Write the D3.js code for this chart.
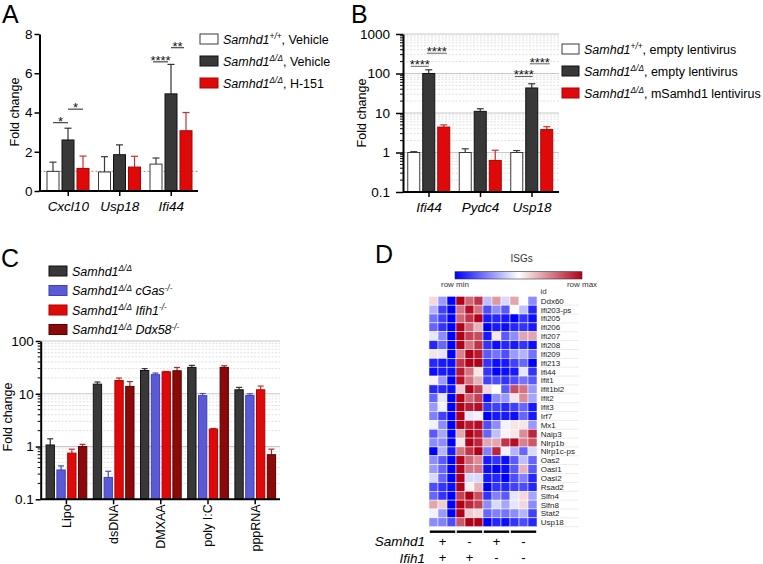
<!DOCTYPE html>
<html>
<head>
<meta charset="utf-8">
<script src="https://cdn.jsdelivr.net/npm/d3@7"></script>
<style>
  body { margin: 0; background: #fff; }
  svg { display: block; }
</style>
</head>
<body>
<svg id="fig" width="763" height="564"></svg>
<script>
var FONT = "Arial, 'Liberation Sans', Helvetica, sans-serif";

// ---- panel A : fold change, linear axis
var aGenes = ["Cxcl10", "Usp18", "Ifi44"];
var aWt = [1.0, 0.97, 1.37],  aWtErr = [0.47, 0.78, 0.31];
var aKo = [2.6, 1.85, 4.95],  aKoErr = [0.6, 0.5, 1.5];
var aH151 = [1.15, 1.22, 3.07], aH151Err = [0.63, 0.55, 0.93];
var aTicks = [0, 2, 4, 6, 8];

// ---- panel B : fold change, log axis
var bGenes = ["Ifi44", "Pydc4", "Usp18"];
var bWt = [1.0, 1.0, 1.0],   bWtErr = [0.05, 0.24, 0.12];
var bKo = [100, 11, 43],     bKoErr = [24, 1.8, 12];
var bRes = [4.4, 0.63, 3.8], bResErr = [0.6, 0.51, 0.7];
var bTicks = [0.1, 1, 10, 100, 1000];

// ---- panel C : stimuli, log axis
var cStim = ["Lipo", "dsDNA", "DMXAA", "poly I:C", "pppRNA"];
var cKo = [1.07, 15.2, 27.6, 31.6, 11.9],   cKoErr = [0.33, 1.5, 2.4, 2.9, 1.3];
var cCgas = [0.36, 0.26, 23, 9.2, 9.3],     cCgasErr = [0.07, 0.08, 1.7, 0.9, 0.7];
var cIfih1 = [0.75, 17.8, 26, 2.14, 11.9],  cIfih1Err = [0.14, 2.1, 0.5, 0.06, 2.1];
var cDdx58 = [1.0, 13.8, 27.3, 31.6, 0.7],  cDdx58Err = [0.1, 3.2, 4.2, 2.4, 0.19];
var cTicks = [0.1, 1, 10, 100];

// ---- panel D : ISG heatmap (row scaled, -1 = row min, 1 = row max)
var hmGenes = ["Ddx60","Ifi203-ps","Ifi205","Ifi206","Ifi207","Ifi208","Ifi209","Ifi213","Ifi44","Ifit1",
  "Ifit1bl2","Ifit2","Ifit3","Irf7","Mx1","Naip3","Nlrp1b","Nlrp1c-ps","Oas2","Oasl1","Oasl2","Rsad2",
  "Slfn4","Slfn8","Stat2","Usp18"];
var hmVals = [
  [0.15,-0.4,-1,1,0.6,0.8,-0.25,0.4,-0.15,0.35,0,-0.45],
  [-0.3,-0.75,-1,0.55,0.95,0.55,-0.7,-0.45,-0.65,0.02,-0.25,-0.85],
  [-0.55,-0.75,-1,0.6,0.8,1,-0.9,-0.85,-0.9,-1,-0.8,-0.95],
  [-0.6,-0.8,-1,1,0.6,0.3,-1,-0.9,-0.95,-0.85,-0.8,-0.9],
  [-0.1,-0.45,-1,1,0.75,0.7,-0.9,0.1,-0.65,-0.45,0.35,0.35],
  [-0.85,-0.6,-1,1,0.55,0.8,-0.8,-0.95,-0.85,-0.9,-0.8,-0.95],
  [0.1,-0.1,-1,0.5,1,0.9,-0.65,-0.55,-0.7,-0.4,-0.3,-0.55],
  [-0.85,-0.9,-0.95,0.8,1,1,-0.8,-0.95,-0.9,-0.75,-0.6,-1],
  [-0.95,-0.9,-0.95,0.9,0.55,0.1,-0.8,-1,-0.95,-0.9,-0.1,-0.8],
  [0.05,-0.4,-1,0.95,0.55,0.3,-0.75,-0.7,-0.8,-0.7,-0.55,-0.65],
  [-0.85,-0.85,-0.95,0.2,1,0.75,0.15,0,-0.65,0.7,0.55,-0.4],
  [-0.6,-0.1,-1,1,0.6,0.75,-0.95,-0.45,-0.4,0.1,0.45,-0.35],
  [-0.4,-0.05,-1,1,0.9,0.95,-0.8,-0.75,-0.85,-0.75,-0.6,-0.9],
  [-0.5,-0.75,-1,1,-0.1,-0.05,-1,-0.9,-0.9,-0.95,-0.6,-0.9],
  [-0.05,-0.45,-1,1,0.9,0.95,-0.7,-0.45,-0.05,0.1,0.1,-0.4],
  [-0.65,-0.35,-1,0.35,1,0.9,-0.6,-0.25,0.05,0.1,0.45,0.85],
  [-0.45,-0.45,-1,0.1,1,0.85,0.35,0.35,0.8,0.95,0.5,0.65],
  [-1,-0.3,-0.9,0.55,0.8,1,-0.5,0.85,-0.05,-0.3,-0.6,-0.15],
  [-0.45,-0.65,-1,1,0.6,0.45,-0.9,-0.8,-0.95,-0.65,-0.25,-0.6],
  [-0.4,-0.6,-1,1,0.55,0.55,-0.95,-1,-0.95,-0.65,0.3,-0.65],
  [-0.15,-0.6,-1,1,-0.15,-0.15,-0.9,-0.85,-1,-0.7,-0.5,-0.85],
  [-0.7,-0.8,-0.95,1,0.05,0.3,-1,-0.8,-0.85,-0.75,-0.7,-0.85],
  [-0.6,-0.8,-1,0.75,1,0.7,-0.8,-0.5,-0.65,-0.1,0.15,-0.35],
  [0.35,0.2,-1,1,0.85,0.75,-0.45,-0.15,-0.35,-0.1,0.15,-0.45],
  [-0.05,-0.4,-1,1,0.2,0.15,-0.6,-0.5,-0.55,-0.45,-0.3,-0.75],
  [-0.45,-0.5,-0.7,0.65,1,1,-1,-0.85,-0.95,-0.8,-0.7,-0.85]
];
var hmSamhd1 = ["+", "-", "+", "-"];
var hmIfih1 = ["+", "+", "-", "-"];

// colours
var C_WHITE = { fill: "#ffffff", stroke: "#3a3a3a", err: "#3a3a3a" };
var C_DARK  = { fill: "#383838", stroke: "#111111", err: "#333333" };
var C_RED   = { fill: "#de0a0a", stroke: "#b00000", err: "#c83030" };
var C_BLUE  = { fill: "#5a5ad6", stroke: "#4040b0", err: "#4a4ac0" };
var C_DRED  = { fill: "#8a0a0a", stroke: "#5e0000", err: "#a03030" };

var svg = d3.select("#fig").style("font-family", FONT);

function styleAxis(g, fs) {
  g.attr("font-family", FONT).attr("font-size", fs || 13);
  g.select(".domain").attr("stroke", "#000").attr("stroke-width", 2);
  g.selectAll(".tick line").attr("stroke", "#000").attr("stroke-width", 1.5);
  g.selectAll(".tick text").attr("fill", "#000");
}

function drawBars(g, x0, x1, y, cats, series, base, capW) {
  series.forEach(function (s, i) {
    var grp = g.append("g");
    cats.forEach(function (c, j) {
      var v = s.vals[j], e = s.errs[j];
      var bx = x0(c) + x1(i), bw = x1.bandwidth(), cx = bx + bw / 2;
      grp.append("line").attr("x1", cx).attr("x2", cx).attr("y1", y(v)).attr("y2", y(v + e))
        .attr("stroke", s.col.err).attr("stroke-width", 1.2);
      grp.append("line").attr("x1", cx - capW / 2).attr("x2", cx + capW / 2)
        .attr("y1", y(v + e)).attr("y2", y(v + e))
        .attr("stroke", s.col.err).attr("stroke-width", 1.2);
      grp.append("rect").attr("x", bx).attr("y", y(v)).attr("width", bw).attr("height", y(base) - y(v))
        .attr("fill", s.col.fill).attr("stroke", s.col.stroke).attr("stroke-width", 1);
    });
  });
}

function logGrid(g, y, x1, x2, lo, hi) {
  for (var d = lo; d < hi; d *= 10) {
    for (var k = 2; k <= 9; k++) {
      g.append("line").attr("x1", x1).attr("x2", x2).attr("y1", y(k * d)).attr("y2", y(k * d))
        .attr("stroke", "#d8d8d8").attr("stroke-width", 0.8).attr("stroke-dasharray", "2,1.5");
    }
    g.append("line").attr("x1", x1).attr("x2", x2).attr("y1", y(d * 10)).attr("y2", y(d * 10))
      .attr("stroke", "#c8c8c8").attr("stroke-width", 1.2);
  }
}

function logMinorTicks(g, y, x, lo, hi) {
  for (var d = lo; d < hi; d *= 10) {
    for (var k = 2; k <= 9; k++) {
      g.append("line").attr("x1", x - 3).attr("x2", x).attr("y1", y(k * d)).attr("y2", y(k * d))
        .attr("stroke", "#000").attr("stroke-width", 1);
    }
  }
}

// parts: [text, italic, sup]
function richText(t, parts, fs) {
  var shifted = false;
  parts.forEach(function (p) {
    var ts = t.append("tspan").text(p[0]).attr("font-style", p[1] ? "italic" : "normal");
    if (p[2]) {
      ts.attr("font-size", fs * 0.66).attr("dy", -fs * 0.36);
      shifted = true;
    } else {
      ts.attr("font-size", fs);
      if (shifted) { ts.attr("dy", fs * 0.36); shifted = false; }
    }
  });
}

function legend(g, x, ys, boxW, items, fs) {
  items.forEach(function (it, i) {
    g.append("rect").attr("x", x).attr("y", ys[i] - 5).attr("width", boxW).attr("height", 10)
      .attr("fill", it.col.fill).attr("stroke", it.col.stroke).attr("stroke-width", 1);
    var t = g.append("text").attr("x", x + boxW + 5).attr("y", ys[i] + 4.5).attr("fill", "#000");
    richText(t, it.parts, fs);
  });
}

function sigMark(g, xa, xb, yv, label, col) {
  g.append("line").attr("x1", xa).attr("x2", xb).attr("y1", yv).attr("y2", yv)
    .attr("stroke", col || "#222").attr("stroke-width", 1);
  g.append("text").attr("x", (xa + xb) / 2).attr("y", yv + 3).attr("text-anchor", "middle")
    .attr("font-size", 13).attr("fill", "#111").text(label);
}

function panelLabel(x, y, s) {
  svg.append("text").attr("x", x).attr("y", y).attr("font-size", 25).text(s);
}

function yLabel(x, y, s) {
  svg.append("text").attr("transform", "translate(" + x + "," + y + ") rotate(-90)")
    .attr("text-anchor", "middle").attr("font-size", 12.5).text(s);
}

// ================= Panel A =================
var gA = svg.append("g");
var yA = d3.scaleLinear().domain([0, 8]).range([191, 34]);
var xA = d3.scaleBand().domain(aGenes).range([42.5, 197]);
var xAin = d3.scaleBand().domain([0, 1, 2]).range([4.5, 46.5]).paddingInner(0.2);
var axLeftA = 39.5, axRightA = 198;

gA.append("line").attr("x1", axLeftA).attr("x2", axRightA).attr("y1", yA(1)).attr("y2", yA(1))
  .attr("stroke", "#777").attr("stroke-width", 0.8).attr("stroke-dasharray", "2,2");

drawBars(gA, xA, xAin, yA, aGenes, [
  { vals: aWt, errs: aWtErr, col: C_WHITE },
  { vals: aKo, errs: aKoErr, col: C_DARK },
  { vals: aH151, errs: aH151Err, col: C_RED }
], 0, 7);

var gAy = gA.append("g").attr("transform", "translate(" + axLeftA + ",0)")
  .call(d3.axisLeft(yA).tickValues(aTicks).tickSize(5).tickPadding(2).tickSizeOuter(0));
styleAxis(gAy, 13.5);
var gAx = gA.append("g").attr("transform", "translate(0," + yA(0) + ")")
  .call(d3.axisBottom(xA).tickSize(5).tickPadding(5).tickSizeOuter(0));
styleAxis(gAx, 13.5);
gAx.select(".domain").attr("d", "M" + axLeftA + ",0H" + axRightA);
gAx.selectAll(".tick text").attr("font-style", "italic");

function cA(g, i) { return xA(g) + xAin(i) + xAin.bandwidth() / 2; }
sigMark(gA, cA("Cxcl10", 0), cA("Cxcl10", 1), yA(3.48), "*");
sigMark(gA, cA("Cxcl10", 1), cA("Cxcl10", 2), yA(4.17), "*");
sigMark(gA, cA("Ifi44", 0) - 3, cA("Ifi44", 1) - 3, yA(6.58), "****");
sigMark(gA, cA("Ifi44", 1), cA("Ifi44", 2) - 2, yA(7.3), "**");

legend(gA, 200, [39, 61, 83], 18, [
  { col: C_WHITE, parts: [["Samhd1", true], ["+/+", true, true], [", Vehicle", false]] },
  { col: C_DARK, parts: [["Samhd1", true], ["\u0394/\u0394", true, true], [", Vehicle", false]] },
  { col: C_RED, parts: [["Samhd1", true], ["\u0394/\u0394", true, true], [", H-151", false]] }
], 12.5);

panelLabel(2, 23, "A");
yLabel(19, 112, "Fold change");

// ================= Panel B =================
var gB = svg.append("g");
var yB = d3.scaleLog().domain([0.1, 1000]).range([192, 34]);
var xB = d3.scaleBand().domain(bGenes).range([403.25, 557.75]);
var xBin = d3.scaleBand().domain([0, 1, 2]).range([4.5, 46.5]).paddingInner(0.2);
var axLeftB = 403, axRightB = 559;

logGrid(gB, yB, axLeftB, axRightB, 0.1, 1000);

drawBars(gB, xB, xBin, yB, bGenes, [
  { vals: bWt, errs: bWtErr, col: C_WHITE },
  { vals: bKo, errs: bKoErr, col: C_DARK },
  { vals: bRes, errs: bResErr, col: C_RED }
], 0.1, 7);

var gBy = gB.append("g").attr("transform", "translate(" + axLeftB + ",0)")
  .call(d3.axisLeft(yB).tickValues(bTicks).tickFormat(d3.format("~g")).tickSize(7).tickPadding(6).tickSizeOuter(0));
styleAxis(gBy, 13.5);
logMinorTicks(gB, yB, axLeftB, 0.1, 1000);
var gBx = gB.append("g").attr("transform", "translate(0," + yB(0.1) + ")")
  .call(d3.axisBottom(xB).tickSize(5).tickPadding(5).tickSizeOuter(0));
styleAxis(gBx, 13.5);
gBx.select(".domain").attr("d", "M" + axLeftB + ",0H" + axRightB);
gBx.selectAll(".tick text").attr("font-style", "italic");

function cB(g, i) { return xB(g) + xBin(i) + xBin.bandwidth() / 2; }
sigMark(gB, cB("Ifi44", 0) - 3, cB("Ifi44", 1), yB(152), "****", "#666");
sigMark(gB, cB("Ifi44", 1) - 2, cB("Ifi44", 2) + 3, yB(326), "****", "#666");
sigMark(gB, cB("Usp18", 0) - 2, cB("Usp18", 1) + 1, yB(84), "****", "#666");
sigMark(gB, cB("Usp18", 1) - 2, cB("Usp18", 2) + 3, yB(176), "****", "#666");

legend(gB, 562, [49, 71, 93], 17, [
  { col: C_WHITE, parts: [["Samhd1", true], ["+/+", true, true], [", empty lentivirus", false]] },
  { col: C_DARK, parts: [["Samhd1", true], ["\u0394/\u0394", true, true], [", empty lentivirus", false]] },
  { col: C_RED, parts: [["Samhd1", true], ["\u0394/\u0394", true, true], [", mSamhd1 lentivirus", false]] }
], 12.5);

panelLabel(351, 23, "B");
yLabel(366, 113, "Fold change");

// ================= Panel C =================
var gC = svg.append("g");
var yC = d3.scaleLog().domain([0.1, 100]).range([499.3, 341]);
var xC = d3.scaleBand().domain(cStim).range([42.8, 278.8]);
var xCin = d3.scaleBand().domain([0, 1, 2, 3]).range([3.3, 44]).paddingInner(0.23);
var axLeftC = 40.7, axRightC = 280;

logGrid(gC, yC, axLeftC, axRightC, 0.1, 100);

drawBars(gC, xC, xCin, yC, cStim, [
  { vals: cKo, errs: cKoErr, col: C_DARK },
  { vals: cCgas, errs: cCgasErr, col: C_BLUE },
  { vals: cIfih1, errs: cIfih1Err, col: C_RED },
  { vals: cDdx58, errs: cDdx58Err, col: C_DRED }
], 0.1, 6);

var gCy = gC.append("g").attr("transform", "translate(" + axLeftC + ",0)")
  .call(d3.axisLeft(yC).tickValues(cTicks).tickFormat(d3.format("~g")).tickSize(5).tickPadding(2).tickSizeOuter(0));
styleAxis(gCy, 13.5);
logMinorTicks(gC, yC, axLeftC, 0.1, 100);
var gCx = gC.append("g").attr("transform", "translate(0," + yC(0.1) + ")")
  .call(d3.axisBottom(xC).tickSize(5).tickSizeOuter(0));
styleAxis(gCx, 12.5);
gCx.select(".domain").attr("d", "M" + axLeftC + ",0H" + axRightC);
gCx.selectAll(".tick text")
  .attr("transform", "rotate(-90)").attr("text-anchor", "end")
  .attr("x", -5).attr("y", 0).attr("dy", "0.35em");

legend(gC, 49, [271, 290.5, 310, 329.5], 18, [
  { col: C_DARK, parts: [["Samhd1", true], ["\u0394/\u0394", true, true]] },
  { col: C_BLUE, parts: [["Samhd1", true], ["\u0394/\u0394", true, true], [" cGas", true], ["-/-", true, true]] },
  { col: C_RED, parts: [["Samhd1", true], ["\u0394/\u0394", true, true], [" Ifih1", true], ["-/-", true, true]] },
  { col: C_DRED, parts: [["Samhd1", true], ["\u0394/\u0394", true, true], [" Ddx58", true], ["-/-", true, true]] }
], 12.5);

panelLabel(1, 267, "C");
yLabel(12, 417, "Fold change");

// ================= Panel D =================
var gD = svg.append("g");
var cols = d3.range(12);
var xH = d3.scaleBand().domain(cols).range([429, 537]);
var yH = d3.scaleBand().domain(hmGenes).range([296.3, 526.7]);
var hmColor = d3.scaleLinear().domain([-1, 0, 1]).range(["#0000ff", "#ffffff", "#b0001a"]);

// colour key
var defs = svg.append("defs");
var grad = defs.append("linearGradient").attr("id", "hmgrad");
[-1, -0.5, 0, 0.5, 1].forEach(function (v) {
  grad.append("stop").attr("offset", ((v + 1) / 2 * 100) + "%").attr("stop-color", hmColor(v));
});
var keyX = 455, keyW = 127;
gD.append("rect").attr("x", keyX).attr("y", 271.7).attr("width", keyW).attr("height", 7.3)
  .attr("fill", "url(#hmgrad)").attr("stroke", "#333").attr("stroke-width", 0.6);
gD.append("text").attr("x", keyX).attr("y", 286.5).attr("text-anchor", "middle").attr("font-size", 8)
  .attr("fill", "#333").text("row min");
gD.append("text").attr("x", keyX + keyW).attr("y", 286.5).attr("text-anchor", "middle").attr("font-size", 8)
  .attr("fill", "#333").text("row max");
gD.append("text").attr("x", 521.7).attr("y", 261.5).attr("text-anchor", "middle").attr("font-size", 10)
  .attr("fill", "#333").text("ISGs");
gD.append("text").attr("x", 540.5).attr("y", 294).attr("font-size", 8).attr("fill", "#333").text("id");

// row label separators
hmGenes.forEach(function (gname) {
  gD.append("line").attr("x1", 540).attr("x2", 579)
    .attr("y1", yH(gname) + yH.bandwidth()).attr("y2", yH(gname) + yH.bandwidth())
    .attr("stroke", "#e4e4e4").attr("stroke-width", 0.7);
});

hmGenes.forEach(function (gname, r) {
  cols.forEach(function (c) {
    gD.append("rect").attr("x", xH(c)).attr("y", yH(gname))
      .attr("width", xH.bandwidth()).attr("height", yH.bandwidth())
      .attr("fill", hmColor(hmVals[r][c])).attr("stroke", "#ffffff").attr("stroke-width", 0.5);
  });
  gD.append("text").attr("x", 540.7).attr("y", yH(gname) + yH.bandwidth() / 2 + 3)
    .attr("font-size", 8).attr("fill", "#222").text(gname);
});

// group bars and genotype signs
hmSamhd1.forEach(function (s, k) {
  var xa = xH(k * 3) + 0.8, xb = xH(k * 3 + 2) + xH.bandwidth() - 0.8;
  gD.append("line").attr("x1", xa).attr("x2", xb).attr("y1", 531.7).attr("y2", 531.7)
    .attr("stroke", "#000").attr("stroke-width", 2.4);
  gD.append("text").attr("x", (xa + xb) / 2).attr("y", 546).attr("text-anchor", "middle")
    .attr("font-size", 13).text(s);
  gD.append("text").attr("x", (xa + xb) / 2).attr("y", 562).attr("text-anchor", "middle")
    .attr("font-size", 13).text(hmIfih1[k]);
});
gD.append("text").attr("x", 425).attr("y", 546).attr("text-anchor", "end").attr("font-size", 13.5)
  .attr("font-style", "italic").text("Samhd1");
gD.append("text").attr("x", 425).attr("y", 562.5).attr("text-anchor", "end").attr("font-size", 13.5)
  .attr("font-style", "italic").text("Ifih1");

panelLabel(375, 263, "D");
</script>
</body>
</html>
